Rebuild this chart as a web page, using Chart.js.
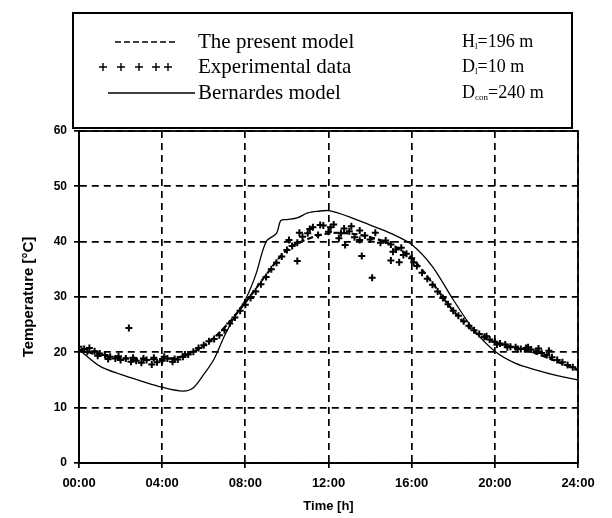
<!DOCTYPE html>
<html>
<head>
<meta charset="utf-8">
<script src="https://cdn.jsdelivr.net/npm/chart.js@4"></script>
<style>
html,body{margin:0;padding:0;background:#fff;}
#wrap{width:612px;height:518px;position:relative;}
</style>
</head>
<body>
<div id="wrap"><canvas id="c" width="612" height="518"></canvas></div>
<script>
// ---- data ----
const timeLabels = ['00:00','04:00','08:00','12:00','16:00','20:00','24:00'];
const tempTicks = [0,10,20,30,40,50,60];

const presentTime = [0,1,2,3,4,5,6,7,8,9,10,11,12,13,14,15,16,17,18,19,20,21,22,23,24];
const presentTemp = [20.5,19.5,19.0,18.8,18.8,19.3,21.2,24.5,29.0,34.0,38.5,40.5,41.5,41.5,40.8,39.5,37.0,32.5,27.5,23.8,21.8,20.8,19.8,18.3,16.8];

const bernTime = [0,1,2,3,4,5,5.5,6,6.5,7,7.5,8,8.5,9,9.5,9.7,10,10.5,11,11.5,12,13,14,15,16,17,18,19,20,21,22,23,24];
const bernTemp = [20.5,17.5,16.0,14.8,13.7,13.0,13.6,16.0,18.8,23.0,26.5,29.5,34.0,40.0,41.5,43.8,44.0,44.3,45.2,45.5,45.6,44.5,43.0,41.5,39.5,35.5,29.5,24.0,20.2,18.0,16.8,15.8,15.0];

const expTime = [0,0.25,0.5,0.75,1,1.25,1.5,1.75,2,2.25,2.5,2.75,3,3.25,3.5,3.75,4,4.25,4.5,4.75,5,5.25,5.5,5.75,6,6.25,6.5,6.75,7,7.25,7.5,7.75,8,8.25,8.5,8.75,9,9.25,9.5,9.75,10,10.25,10.5,10.75,11,11.25,11.5,11.75,12,12.25,12.5,12.75,13,13.25,13.5,13.75,14,14.25,14.5,14.75,15,15.25,15.5,15.75,16,16.25,16.5,16.75,17,17.25,17.5,17.75,18,18.25,18.5,18.75,19,19.25,19.5,19.75,20,20.25,20.5,20.75,21,21.25,21.5,21.75,22,22.25,22.5,22.75,23,23.25,23.5,23.75,24,
  0.4,0.9,1.4,1.9,2.6,3.1,3.6,4.1,4.6,5.1,10.1,10.6,11.1,11.6,12.1,12.6,13.1,15.1,15.6,16.1,19.6,20.1,20.6,21.1,21.6,22.1,22.6,
  2.4,10.5,13.6,14.1,15.0,15.4,13.5,12.8];
const expTemp = [21.0,20.6,20.8,20.2,19.8,19.5,19.2,18.9,18.6,18.9,18.3,18.5,18.1,18.6,17.8,18.2,18.5,18.9,18.3,18.7,19.2,19.6,20.1,20.8,21.3,22.0,22.4,23.1,24.0,25.2,26.3,27.5,28.6,29.8,31.0,32.3,33.6,35.0,36.2,37.3,38.5,39.2,39.8,40.9,41.5,42.6,41.2,42.9,41.8,43.1,40.6,42.4,41.9,40.8,42.0,41.1,40.4,41.6,39.8,40.2,39.5,38.6,38.9,37.8,37.0,35.6,34.4,33.3,32.2,31.0,29.8,28.7,27.5,26.6,25.6,24.8,24.0,23.3,22.8,22.3,21.9,21.6,21.4,21.0,20.9,20.6,20.8,20.5,20.2,19.9,19.5,19.1,18.6,18.2,17.7,17.3,16.9,
  20.1,19.4,18.8,19.3,19.0,18.9,19.0,19.2,18.8,19.6,40.3,41.6,42.3,43.0,42.6,41.5,42.8,38.2,37.6,36.3,22.9,21.4,20.9,20.6,20.9,20.7,20.3,
  24.4,36.5,37.4,33.5,36.6,36.3,40.3,39.4];

const legendNames = ['The present model','Experimental data','Bernardes model'];

function pairs(xs, ys){ return xs.map((x,i)=>({x:x,y:ys[i]})); }

const frameLegend = {
  id:'frameLegend',
  afterDraw(chart){
    const ctx = chart.ctx, a = chart.chartArea;
    ctx.save();
    ctx.strokeStyle = '#000';
    ctx.lineWidth = 1.8;
    ctx.setLineDash([]);
    ctx.strokeRect(a.left, a.top, a.right - a.left, a.bottom - a.top);
    // legend box
    ctx.lineWidth = 2;
    ctx.strokeRect(73, 13, 499, 115);
    const rows = [42, 67, 93];
    ctx.fillStyle = '#000';
    ctx.font = '21px "Liberation Serif"';
    ctx.textBaseline = 'middle';
    ctx.textAlign = 'left';
    legendNames.forEach((t,i)=>ctx.fillText(t, 198, rows[i]));
    // symbols
    ctx.lineWidth = 1.3;
    ctx.setLineDash([6,3]);
    ctx.beginPath(); ctx.moveTo(115, rows[0]); ctx.lineTo(176, rows[0]); ctx.stroke();
    ctx.setLineDash([]);
    ctx.lineWidth = 1.4;
    [103,121,139,156,168].forEach(px=>{
      ctx.beginPath();
      ctx.moveTo(px-4, rows[1]); ctx.lineTo(px+4, rows[1]);
      ctx.moveTo(px, rows[1]-4); ctx.lineTo(px, rows[1]+4);
      ctx.stroke();
    });
    ctx.lineWidth = 1.6;
    ctx.beginPath(); ctx.moveTo(108, rows[2]); ctx.lineTo(195, rows[2]); ctx.stroke();
    // parameters
    const params = [['H','l','=196 m'],['D','l','=10 m'],['D','con','=240 m']];
    params.forEach((p,i)=>{
      let x = 462;
      ctx.font = '18px "Liberation Serif"';
      ctx.fillText(p[0], x, rows[i]); x += ctx.measureText(p[0]).width;
      ctx.font = '9px "Liberation Serif"';
      ctx.fillText(p[1], x, rows[i]+5); x += ctx.measureText(p[1]).width;
      ctx.font = '18px "Liberation Serif"';
      ctx.fillText(p[2], x, rows[i]);
    });
    ctx.restore();
  }
};

new Chart(document.getElementById('c'), {
  type: 'scatter',
  data: {
    datasets: [
      {
        label: legendNames[0],
        data: pairs(presentTime, presentTemp),
        showLine: true,
        borderColor: '#000',
        borderWidth: 2.2,
        borderDash: [6,3],
        pointRadius: 0,
        tension: 0.35,
        order: 2
      },
      {
        label: legendNames[1],
        data: pairs(expTime, expTemp),
        showLine: false,
        pointStyle: 'cross',
        pointRadius: 3.5,
        pointBorderWidth: 2,
        borderColor: '#000',
        backgroundColor: '#000',
        order: 1
      },
      {
        label: legendNames[2],
        data: pairs(bernTime, bernTemp),
        showLine: true,
        borderColor: '#000',
        borderWidth: 1.3,
        pointRadius: 0,
        tension: 0.3,
        order: 3
      }
    ]
  },
  options: {
    responsive: false,
    animation: false,
    layout: { padding: { left: 0, top: 131, right: 34, bottom: 0 } },
    plugins: { legend: { display: false }, tooltip: { enabled: false } },
    scales: {
      x: {
        type: 'linear',
        min: 0, max: 24,
        afterFit(s){ s.height = 55; },
        afterBuildTicks(s){ s.ticks = timeLabels.map((_,i)=>({value: i*4})); },
        ticks: {
          color: '#000',
          font: { family: '"Liberation Sans"', size: 13, weight: 'bold' },
          padding: 8,
          maxRotation: 0,
          callback: (v, i) => timeLabels[i]
        },
        grid: { color: '#000', lineWidth: 1.7, tickLength: 5, tickBorderDash: [] },
        border: { display: true, color: '#000', width: 1.8, dash: [7,5] },
        title: {
          display: true, text: 'Time [h]', color: '#000',
          font: { family: '"Liberation Sans"', size: 13, weight: 'bold' },
          padding: { top: 0, bottom: 4 }
        }
      },
      y: {
        min: 0, max: 60,
        afterFit(s){ s.width = 79; },
        afterBuildTicks(s){ s.ticks = tempTicks.map(v=>({value: v})); },
        ticks: {
          color: '#000',
          font: { family: '"Liberation Sans"', size: 12, weight: 'bold' },
          padding: 7
        },
        grid: { color: '#000', lineWidth: 1.7, tickLength: 5, tickBorderDash: [] },
        border: { display: true, color: '#000', width: 1.8, dash: [7,5] },
        title: {
          display: true, text: 'Temperature [°C]', color: '#000',
          font: { family: '"Liberation Sans"', size: 15, weight: 'bold' },
          padding: { top: 20, bottom: 0 }
        }
      }
    }
  },
  plugins: [frameLegend]
});
</script>
</body>
</html>
